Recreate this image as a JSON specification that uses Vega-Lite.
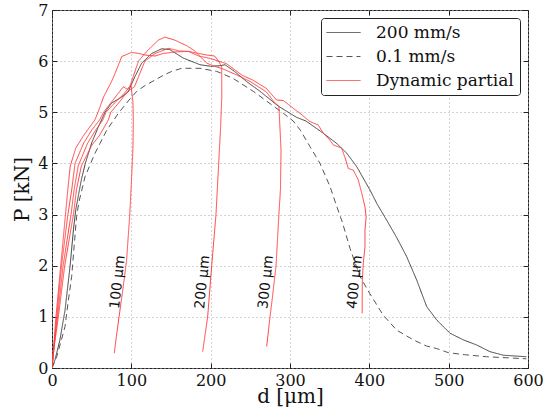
{
  "$schema": "https://vega.github.io/schema/vega-lite/v6.json",
  "width": 476,
  "height": 358,
  "autosize": {"type": "none"},
  "padding": {"left": 52, "top": 10, "right": 25, "bottom": 46},
  "background": "white",
  "config": {
    "view": {"stroke": "#222222", "strokeWidth": 1},
    "axis": {
      "labelFont": "DejaVu Serif", "labelFontSize": 16, "labelColor": "#111", "labelFlush": false,
      "titleFont": "DejaVu Serif", "titleFontSize": 20, "titleFontWeight": "normal", "titleColor": "#111",
      "domain": false, "tickSize": -5, "tickColor": "#222", "tickWidth": 1,
      "grid": true, "gridDash": [1, 3], "gridColor": "#aaaaaa", "gridWidth": 1
    },
    "legend": {
      "orient": "top-right", "offset": 8, "fillColor": "white", "strokeColor": "#222",
      "cornerRadius": 3, "padding": 6, "labelFont": "DejaVu Serif", "labelFontSize": 17,
      "labelColor": "#111", "symbolType": "M-4.25,0H4.25", "symbolSize": 64, "symbolStrokeWidth": 1,
      "symbolOffset": 8, "labelOffset": 24, "rowPadding": 6, "title": null
    }
  },
  "datasets": {
    "curves": [
      {"s":"200 mm/s","c":"k","i":0,"x":0,"y":0},{"s":"200 mm/s","c":"k","i":1,"x":3.8,"y":0.16},{"s":"200 mm/s","c":"k","i":2,"x":10,"y":0.55},{"s":"200 mm/s","c":"k","i":3,"x":16.4,"y":1.13},{"s":"200 mm/s","c":"k","i":4,"x":22.7,"y":1.98},{"s":"200 mm/s","c":"k","i":5,"x":27,"y":2.7},{"s":"200 mm/s","c":"k","i":6,"x":30,"y":3.1},{"s":"200 mm/s","c":"k","i":7,"x":37,"y":3.68},{"s":"200 mm/s","c":"k","i":8,"x":42,"y":4.0},{"s":"200 mm/s","c":"k","i":9,"x":50,"y":4.4},{"s":"200 mm/s","c":"k","i":10,"x":58,"y":4.7},{"s":"200 mm/s","c":"k","i":11,"x":66.8,"y":5.0},{"s":"200 mm/s","c":"k","i":12,"x":75,"y":5.18},{"s":"200 mm/s","c":"k","i":13,"x":88,"y":5.3},{"s":"200 mm/s","c":"k","i":14,"x":96,"y":5.4},{"s":"200 mm/s","c":"k","i":15,"x":104.6,"y":5.7},{"s":"200 mm/s","c":"k","i":16,"x":113,"y":5.96},{"s":"200 mm/s","c":"k","i":17,"x":125.7,"y":6.15},{"s":"200 mm/s","c":"k","i":18,"x":138,"y":6.24},{"s":"200 mm/s","c":"k","i":19,"x":148,"y":6.23},{"s":"200 mm/s","c":"k","i":20,"x":165.5,"y":6.06},{"s":"200 mm/s","c":"k","i":21,"x":186.6,"y":5.93},{"s":"200 mm/s","c":"k","i":22,"x":200,"y":5.9},{"s":"200 mm/s","c":"k","i":23,"x":211.8,"y":5.91},{"s":"200 mm/s","c":"k","i":24,"x":218,"y":5.93},{"s":"200 mm/s","c":"k","i":25,"x":230,"y":5.8},{"s":"200 mm/s","c":"k","i":26,"x":245.4,"y":5.6},{"s":"200 mm/s","c":"k","i":27,"x":262.2,"y":5.41},{"s":"200 mm/s","c":"k","i":28,"x":285.3,"y":5.12},{"s":"200 mm/s","c":"k","i":29,"x":308.4,"y":4.9},{"s":"200 mm/s","c":"k","i":30,"x":320,"y":4.83},{"s":"200 mm/s","c":"k","i":31,"x":342,"y":4.59},{"s":"200 mm/s","c":"k","i":32,"x":358.9,"y":4.39},{"s":"200 mm/s","c":"k","i":33,"x":371.5,"y":4.2},{"s":"200 mm/s","c":"k","i":34,"x":384,"y":3.94},{"s":"200 mm/s","c":"k","i":35,"x":400.8,"y":3.48},{"s":"200 mm/s","c":"k","i":36,"x":410,"y":3.2},{"s":"200 mm/s","c":"k","i":37,"x":421.9,"y":2.89},{"s":"200 mm/s","c":"k","i":38,"x":434.5,"y":2.55},{"s":"200 mm/s","c":"k","i":39,"x":447,"y":2.18},{"s":"200 mm/s","c":"k","i":40,"x":459.7,"y":1.72},{"s":"200 mm/s","c":"k","i":41,"x":472.3,"y":1.2},{"s":"200 mm/s","c":"k","i":42,"x":484.9,"y":0.94},{"s":"200 mm/s","c":"k","i":43,"x":501.7,"y":0.68},{"s":"200 mm/s","c":"k","i":44,"x":518.5,"y":0.55},{"s":"200 mm/s","c":"k","i":45,"x":535.3,"y":0.45},{"s":"200 mm/s","c":"k","i":46,"x":552,"y":0.32},{"s":"200 mm/s","c":"k","i":47,"x":568.9,"y":0.25},{"s":"200 mm/s","c":"k","i":48,"x":598,"y":0.22},

      {"s":"0.1 mm/s","c":"d","i":0,"x":0,"y":0},{"s":"0.1 mm/s","c":"d","i":1,"x":5.9,"y":0.22},{"s":"0.1 mm/s","c":"d","i":2,"x":11,"y":0.5},{"s":"0.1 mm/s","c":"d","i":3,"x":16.4,"y":0.81},{"s":"0.1 mm/s","c":"d","i":4,"x":20,"y":1.25},{"s":"0.1 mm/s","c":"d","i":5,"x":24.8,"y":1.79},{"s":"0.1 mm/s","c":"d","i":6,"x":28,"y":2.4},{"s":"0.1 mm/s","c":"d","i":7,"x":31,"y":2.96},{"s":"0.1 mm/s","c":"d","i":8,"x":34,"y":3.25},{"s":"0.1 mm/s","c":"d","i":9,"x":41.6,"y":3.74},{"s":"0.1 mm/s","c":"d","i":10,"x":54.2,"y":4.2},{"s":"0.1 mm/s","c":"d","i":11,"x":60.5,"y":4.39},{"s":"0.1 mm/s","c":"d","i":12,"x":69,"y":4.65},{"s":"0.1 mm/s","c":"d","i":13,"x":83.6,"y":4.98},{"s":"0.1 mm/s","c":"d","i":14,"x":95,"y":5.2},{"s":"0.1 mm/s","c":"d","i":15,"x":106.8,"y":5.41},{"s":"0.1 mm/s","c":"d","i":16,"x":118,"y":5.53},{"s":"0.1 mm/s","c":"d","i":17,"x":129.8,"y":5.63},{"s":"0.1 mm/s","c":"d","i":18,"x":140,"y":5.72},{"s":"0.1 mm/s","c":"d","i":19,"x":150.9,"y":5.8},{"s":"0.1 mm/s","c":"d","i":20,"x":163.5,"y":5.86},{"s":"0.1 mm/s","c":"d","i":21,"x":186.5,"y":5.86},{"s":"0.1 mm/s","c":"d","i":22,"x":207.6,"y":5.8},{"s":"0.1 mm/s","c":"d","i":23,"x":228.6,"y":5.66},{"s":"0.1 mm/s","c":"d","i":24,"x":253.7,"y":5.41},{"s":"0.1 mm/s","c":"d","i":25,"x":274.8,"y":5.17},{"s":"0.1 mm/s","c":"d","i":26,"x":291.6,"y":4.98},{"s":"0.1 mm/s","c":"d","i":27,"x":304,"y":4.83},{"s":"0.1 mm/s","c":"d","i":28,"x":313,"y":4.65},{"s":"0.1 mm/s","c":"d","i":29,"x":325.2,"y":4.33},{"s":"0.1 mm/s","c":"d","i":30,"x":337.8,"y":4.0},{"s":"0.1 mm/s","c":"d","i":31,"x":350.4,"y":3.55},{"s":"0.1 mm/s","c":"d","i":32,"x":358,"y":3.2},{"s":"0.1 mm/s","c":"d","i":33,"x":366,"y":2.85},{"s":"0.1 mm/s","c":"d","i":34,"x":375.6,"y":2.34},{"s":"0.1 mm/s","c":"d","i":35,"x":388.2,"y":1.79},{"s":"0.1 mm/s","c":"d","i":36,"x":400.8,"y":1.45},{"s":"0.1 mm/s","c":"d","i":37,"x":417.6,"y":1.03},{"s":"0.1 mm/s","c":"d","i":38,"x":434.5,"y":0.74},{"s":"0.1 mm/s","c":"d","i":39,"x":455.5,"y":0.55},{"s":"0.1 mm/s","c":"d","i":40,"x":472,"y":0.43},{"s":"0.1 mm/s","c":"d","i":41,"x":484.9,"y":0.38},{"s":"0.1 mm/s","c":"d","i":42,"x":499.6,"y":0.3},{"s":"0.1 mm/s","c":"d","i":43,"x":520,"y":0.26},{"s":"0.1 mm/s","c":"d","i":44,"x":548,"y":0.22},{"s":"0.1 mm/s","c":"d","i":45,"x":598,"y":0.18},

      {"s":"Dynamic partial","c":"r100","i":0,"x":0,"y":0},{"s":"Dynamic partial","c":"r100","i":1,"x":2,"y":0.35},{"s":"Dynamic partial","c":"r100","i":2,"x":6,"y":1},{"s":"Dynamic partial","c":"r100","i":3,"x":12,"y":2},{"s":"Dynamic partial","c":"r100","i":4,"x":16,"y":2.5},{"s":"Dynamic partial","c":"r100","i":5,"x":20,"y":3},{"s":"Dynamic partial","c":"r100","i":6,"x":25,"y":3.5},{"s":"Dynamic partial","c":"r100","i":7,"x":29,"y":4},{"s":"Dynamic partial","c":"r100","i":8,"x":40,"y":4.4},{"s":"Dynamic partial","c":"r100","i":9,"x":50,"y":4.65},{"s":"Dynamic partial","c":"r100","i":10,"x":60,"y":4.85},{"s":"Dynamic partial","c":"r100","i":11,"x":65,"y":5.0},{"s":"Dynamic partial","c":"r100","i":12,"x":75,"y":5.2},{"s":"Dynamic partial","c":"r100","i":13,"x":85,"y":5.4},{"s":"Dynamic partial","c":"r100","i":14,"x":90,"y":5.5},{"s":"Dynamic partial","c":"r100","i":15,"x":95,"y":5.45},{"s":"Dynamic partial","c":"r100","i":16,"x":99.6,"y":5.53},{"s":"Dynamic partial","c":"r100","i":17,"x":102,"y":5.2},{"s":"Dynamic partial","c":"r100","i":18,"x":102.5,"y":4.8},{"s":"Dynamic partial","c":"r100","i":19,"x":102,"y":4.3},{"s":"Dynamic partial","c":"r100","i":20,"x":100,"y":3.6},{"s":"Dynamic partial","c":"r100","i":21,"x":98,"y":3.0},{"s":"Dynamic partial","c":"r100","i":22,"x":94,"y":2.1},{"s":"Dynamic partial","c":"r100","i":23,"x":89,"y":1.5},{"s":"Dynamic partial","c":"r100","i":24,"x":84.5,"y":1.0},{"s":"Dynamic partial","c":"r100","i":25,"x":81,"y":0.6},{"s":"Dynamic partial","c":"r100","i":26,"x":78.5,"y":0.29},

      {"s":"Dynamic partial","c":"r200","i":0,"x":0,"y":0},{"s":"Dynamic partial","c":"r200","i":1,"x":2,"y":0.4},{"s":"Dynamic partial","c":"r200","i":2,"x":5,"y":1},{"s":"Dynamic partial","c":"r200","i":3,"x":11,"y":2},{"s":"Dynamic partial","c":"r200","i":4,"x":17,"y":3},{"s":"Dynamic partial","c":"r200","i":5,"x":20,"y":3.5},{"s":"Dynamic partial","c":"r200","i":6,"x":23,"y":3.95},{"s":"Dynamic partial","c":"r200","i":7,"x":30,"y":4.3},{"s":"Dynamic partial","c":"r200","i":8,"x":40,"y":4.55},{"s":"Dynamic partial","c":"r200","i":9,"x":54,"y":4.85},{"s":"Dynamic partial","c":"r200","i":10,"x":58,"y":5.0},{"s":"Dynamic partial","c":"r200","i":11,"x":65,"y":5.3},{"s":"Dynamic partial","c":"r200","i":12,"x":75,"y":5.6},{"s":"Dynamic partial","c":"r200","i":13,"x":80,"y":5.78},{"s":"Dynamic partial","c":"r200","i":14,"x":87.9,"y":6.09},{"s":"Dynamic partial","c":"r200","i":15,"x":100,"y":6.17},{"s":"Dynamic partial","c":"r200","i":16,"x":110,"y":6.15},{"s":"Dynamic partial","c":"r200","i":17,"x":117,"y":6.12},{"s":"Dynamic partial","c":"r200","i":18,"x":130,"y":6.1},{"s":"Dynamic partial","c":"r200","i":19,"x":140,"y":6.15},{"s":"Dynamic partial","c":"r200","i":20,"x":155,"y":6.18},{"s":"Dynamic partial","c":"r200","i":21,"x":172,"y":6.19},{"s":"Dynamic partial","c":"r200","i":22,"x":185,"y":6.15},{"s":"Dynamic partial","c":"r200","i":23,"x":195,"y":6.12},{"s":"Dynamic partial","c":"r200","i":24,"x":205,"y":6.1},{"s":"Dynamic partial","c":"r200","i":25,"x":210,"y":6.0},{"s":"Dynamic partial","c":"r200","i":26,"x":213.9,"y":5.89},{"s":"Dynamic partial","c":"r200","i":27,"x":214,"y":5.3},{"s":"Dynamic partial","c":"r200","i":28,"x":212.5,"y":4.7},{"s":"Dynamic partial","c":"r200","i":29,"x":211,"y":4.26},{"s":"Dynamic partial","c":"r200","i":30,"x":206.7,"y":3.0},{"s":"Dynamic partial","c":"r200","i":31,"x":201.3,"y":2.0},{"s":"Dynamic partial","c":"r200","i":32,"x":196.2,"y":1.0},{"s":"Dynamic partial","c":"r200","i":33,"x":189.9,"y":0.32},

      {"s":"Dynamic partial","c":"r300","i":0,"x":0,"y":0},{"s":"Dynamic partial","c":"r300","i":1,"x":2.5,"y":0.4},{"s":"Dynamic partial","c":"r300","i":2,"x":7,"y":1},{"s":"Dynamic partial","c":"r300","i":3,"x":14,"y":2},{"s":"Dynamic partial","c":"r300","i":4,"x":24,"y":3},{"s":"Dynamic partial","c":"r300","i":5,"x":28,"y":3.5},{"s":"Dynamic partial","c":"r300","i":6,"x":33,"y":3.95},{"s":"Dynamic partial","c":"r300","i":7,"x":45,"y":4.4},{"s":"Dynamic partial","c":"r300","i":8,"x":55,"y":4.65},{"s":"Dynamic partial","c":"r300","i":9,"x":64,"y":4.85},{"s":"Dynamic partial","c":"r300","i":10,"x":68,"y":5.0},{"s":"Dynamic partial","c":"r300","i":11,"x":80,"y":5.2},{"s":"Dynamic partial","c":"r300","i":12,"x":90,"y":5.35},{"s":"Dynamic partial","c":"r300","i":13,"x":98,"y":5.5},{"s":"Dynamic partial","c":"r300","i":14,"x":109,"y":6.0},{"s":"Dynamic partial","c":"r300","i":15,"x":120,"y":6.2},{"s":"Dynamic partial","c":"r300","i":16,"x":134,"y":6.41},{"s":"Dynamic partial","c":"r300","i":17,"x":142.4,"y":6.47},{"s":"Dynamic partial","c":"r300","i":18,"x":155,"y":6.41},{"s":"Dynamic partial","c":"r300","i":19,"x":170,"y":6.3},{"s":"Dynamic partial","c":"r300","i":20,"x":180,"y":6.2},{"s":"Dynamic partial","c":"r300","i":21,"x":195,"y":5.96},{"s":"Dynamic partial","c":"r300","i":22,"x":205,"y":5.9},{"s":"Dynamic partial","c":"r300","i":23,"x":215,"y":5.85},{"s":"Dynamic partial","c":"r300","i":24,"x":230,"y":5.75},{"s":"Dynamic partial","c":"r300","i":25,"x":250,"y":5.6},{"s":"Dynamic partial","c":"r300","i":26,"x":270,"y":5.4},{"s":"Dynamic partial","c":"r300","i":27,"x":280,"y":5.2},{"s":"Dynamic partial","c":"r300","i":28,"x":286,"y":5.12},{"s":"Dynamic partial","c":"r300","i":29,"x":288.7,"y":4.26},{"s":"Dynamic partial","c":"r300","i":30,"x":288,"y":3.5},{"s":"Dynamic partial","c":"r300","i":31,"x":286,"y":3.0},{"s":"Dynamic partial","c":"r300","i":32,"x":282.4,"y":2.0},{"s":"Dynamic partial","c":"r300","i":33,"x":278,"y":1.4},{"s":"Dynamic partial","c":"r300","i":34,"x":274.8,"y":1.0},{"s":"Dynamic partial","c":"r300","i":35,"x":270.6,"y":0.42},

      {"s":"Dynamic partial","c":"r400","i":0,"x":0,"y":0},{"s":"Dynamic partial","c":"r400","i":1,"x":3,"y":0.45},{"s":"Dynamic partial","c":"r400","i":2,"x":8,"y":1},{"s":"Dynamic partial","c":"r400","i":3,"x":16,"y":2},{"s":"Dynamic partial","c":"r400","i":4,"x":27,"y":3},{"s":"Dynamic partial","c":"r400","i":5,"x":31,"y":3.5},{"s":"Dynamic partial","c":"r400","i":6,"x":37,"y":3.95},{"s":"Dynamic partial","c":"r400","i":7,"x":50,"y":4.35},{"s":"Dynamic partial","c":"r400","i":8,"x":60,"y":4.55},{"s":"Dynamic partial","c":"r400","i":9,"x":71,"y":4.85},{"s":"Dynamic partial","c":"r400","i":10,"x":74,"y":5.0},{"s":"Dynamic partial","c":"r400","i":11,"x":85,"y":5.2},{"s":"Dynamic partial","c":"r400","i":12,"x":95,"y":5.4},{"s":"Dynamic partial","c":"r400","i":13,"x":104,"y":5.5},{"s":"Dynamic partial","c":"r400","i":14,"x":117,"y":6.0},{"s":"Dynamic partial","c":"r400","i":15,"x":130,"y":6.15},{"s":"Dynamic partial","c":"r400","i":16,"x":147,"y":6.25},{"s":"Dynamic partial","c":"r400","i":17,"x":160,"y":6.2},{"s":"Dynamic partial","c":"r400","i":18,"x":172,"y":6.19},{"s":"Dynamic partial","c":"r400","i":19,"x":185,"y":6.1},{"s":"Dynamic partial","c":"r400","i":20,"x":200,"y":6.05},{"s":"Dynamic partial","c":"r400","i":21,"x":220,"y":5.95},{"s":"Dynamic partial","c":"r400","i":22,"x":240,"y":5.72},{"s":"Dynamic partial","c":"r400","i":23,"x":253,"y":5.63},{"s":"Dynamic partial","c":"r400","i":24,"x":270,"y":5.47},{"s":"Dynamic partial","c":"r400","i":25,"x":283,"y":5.24},{"s":"Dynamic partial","c":"r400","i":26,"x":291.6,"y":5.23},{"s":"Dynamic partial","c":"r400","i":27,"x":304,"y":5.08},{"s":"Dynamic partial","c":"r400","i":28,"x":315,"y":4.95},{"s":"Dynamic partial","c":"r400","i":29,"x":325,"y":4.82},{"s":"Dynamic partial","c":"r400","i":30,"x":335.7,"y":4.75},{"s":"Dynamic partial","c":"r400","i":31,"x":342,"y":4.59},{"s":"Dynamic partial","c":"r400","i":32,"x":350,"y":4.46},{"s":"Dynamic partial","c":"r400","i":33,"x":354.6,"y":4.36},{"s":"Dynamic partial","c":"r400","i":34,"x":365,"y":4.3},{"s":"Dynamic partial","c":"r400","i":35,"x":369,"y":4.13},{"s":"Dynamic partial","c":"r400","i":36,"x":373.5,"y":3.9},{"s":"Dynamic partial","c":"r400","i":37,"x":379.8,"y":3.87},{"s":"Dynamic partial","c":"r400","i":38,"x":386,"y":3.68},{"s":"Dynamic partial","c":"r400","i":39,"x":390.4,"y":3.42},{"s":"Dynamic partial","c":"r400","i":40,"x":394.5,"y":3.15},{"s":"Dynamic partial","c":"r400","i":41,"x":396,"y":2.95},{"s":"Dynamic partial","c":"r400","i":42,"x":394.5,"y":2.7},{"s":"Dynamic partial","c":"r400","i":43,"x":394.5,"y":2.37},{"s":"Dynamic partial","c":"r400","i":44,"x":392.4,"y":2.05},{"s":"Dynamic partial","c":"r400","i":45,"x":391.2,"y":1.72},{"s":"Dynamic partial","c":"r400","i":46,"x":391,"y":1.39},{"s":"Dynamic partial","c":"r400","i":47,"x":391,"y":1.07}
    ],
    "labels": [
      {"label": "100 μm", "x": 83, "y": 1.68},
      {"label": "200 μm", "x": 190, "y": 1.68},
      {"label": "300 μm", "x": 270, "y": 1.68},
      {"label": "400 μm", "x": 382, "y": 1.68}
    ]
  },
  "layer": [
    {
      "data": {"name": "curves"},
      "mark": {"type": "line", "strokeWidth": 1, "clip": true},
      "encoding": {
        "x": {"field": "x", "type": "quantitative", "scale": {"domain": [0, 600], "nice": false, "zero": false},
              "axis": {"title": "d [μm]", "values": [0, 100, 200, 300, 400, 500, 600], "labelPadding": 9, "titleY": 18, "titleBaseline": "top"}},
        "y": {"field": "y", "type": "quantitative", "scale": {"domain": [0, 7], "nice": false},
              "axis": {"title": "P [kN]", "values": [0, 1, 2, 3, 4, 5, 6, 7], "labelPadding": 9, "titleX": -20, "titleBaseline": "bottom"}},
        "color": {"field": "s", "type": "nominal",
                  "scale": {"domain": ["200 mm/s", "0.1 mm/s", "Dynamic partial"], "range": ["#404040", "#555555", "#ff4040"]}},
        "strokeDash": {"field": "s", "type": "nominal",
                       "scale": {"domain": ["200 mm/s", "0.1 mm/s", "Dynamic partial"], "range": [[1, 0], [6, 4], [1, 0]]}},
        "detail": {"field": "c"},
        "order": {"field": "i", "type": "quantitative"}
      }
    },
    {
      "data": {"name": "labels"},
      "mark": {"type": "text", "font": "DejaVu Sans", "fontSize": 14, "angle": -84, "align": "center", "baseline": "middle", "color": "#111"},
      "encoding": {
        "x": {"field": "x", "type": "quantitative", "axis": null},
        "y": {"field": "y", "type": "quantitative", "axis": null},
        "text": {"field": "label"}
      }
    },
    {
      "data": {"name": "labels"},
      "mark": {"type": "point", "opacity": 0},
      "encoding": {
        "x": {"field": "x", "type": "quantitative", "axis": {"orient": "top", "labels": false, "title": null, "grid": false, "values": [0, 100, 200, 300, 400, 500, 600]}},
        "y": {"field": "y", "type": "quantitative", "axis": {"orient": "right", "labels": false, "title": null, "grid": false, "values": [0, 1, 2, 3, 4, 5, 6, 7]}}
      }
    }
  ],
  "resolve": {"axis": {"x": "independent", "y": "independent"}}
}
